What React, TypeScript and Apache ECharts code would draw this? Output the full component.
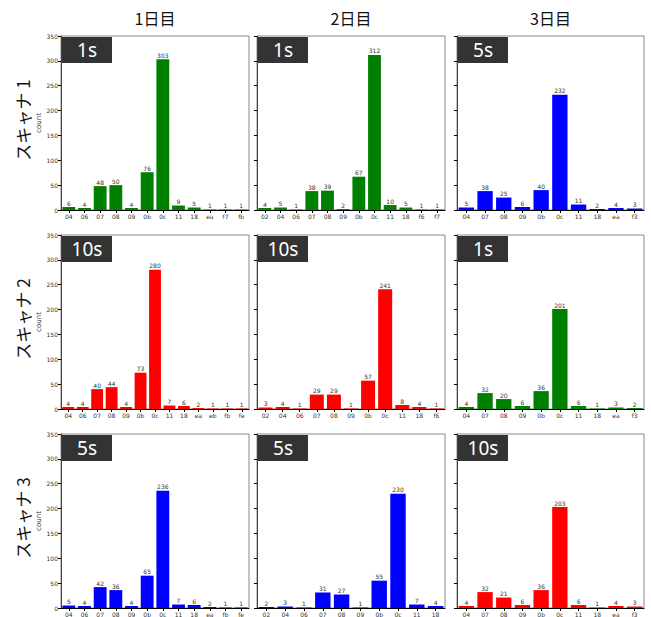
import React, { useEffect, useRef } from "react";
import * as echarts from "echarts";

const dayTitles = ["1日目", "2日目", "3日目"];
const scannerLabels = ["スキャナ 1", "スキャナ 2", "スキャナ 3"];

// Row 1 (スキャナ 1)
const r1d1Cats = ["04", "06", "07", "08", "09", "0b", "0c", "11", "18", "ea", "f7", "fb"];
const r1d1Vals = [6, 4, 48, 50, 4, 76, 303, 9, 5, 1, 1, 1];
const r1d2Cats = ["02", "04", "06", "07", "08", "09", "0b", "0c", "11", "18", "f6", "f7"];
const r1d2Vals = [4, 5, 1, 38, 39, 2, 67, 312, 10, 5, 1, 1];
const r1d3Cats = ["04", "07", "08", "09", "0b", "0c", "11", "18", "ea", "f3"];
const r1d3Vals = [5, 38, 25, 6, 40, 232, 11, 2, 4, 3];

// Row 2 (スキャナ 2)
const r2d1Cats = ["04", "06", "07", "08", "09", "0b", "0c", "11", "18", "ea", "eb", "fb", "fe"];
const r2d1Vals = [4, 4, 40, 44, 4, 73, 280, 7, 6, 2, 1, 1, 1];
const r2d2Cats = ["02", "04", "06", "07", "08", "09", "0b", "0c", "11", "18", "f6"];
const r2d2Vals = [3, 4, 1, 29, 29, 1, 57, 241, 8, 4, 1];
const r2d3Cats = ["04", "07", "08", "09", "0b", "0c", "11", "18", "ea", "f3"];
const r2d3Vals = [4, 32, 20, 6, 36, 201, 6, 1, 3, 2];

// Row 3 (スキャナ 3)
const r3d1Cats = ["04", "06", "07", "08", "09", "0b", "0c", "11", "18", "ea", "fb", "fe"];
const r3d1Vals = [5, 4, 42, 36, 4, 65, 236, 7, 6, 2, 1, 1];
const r3d2Cats = ["02", "04", "06", "07", "08", "09", "0b", "0c", "11", "18"];
const r3d2Vals = [2, 3, 1, 31, 27, 1, 55, 230, 7, 4];
const r3d3Cats = ["04", "07", "08", "09", "0b", "0c", "11", "18", "ea", "f3"];
const r3d3Vals = [4, 32, 21, 6, 36, 203, 6, 1, 4, 3];

const intervals = [
  ["1s", "1s", "5s"],
  ["10s", "10s", "1s"],
  ["5s", "5s", "10s"],
];

const panels = [
  [
    [r1d1Cats, r1d1Vals],
    [r1d2Cats, r1d2Vals],
    [r1d3Cats, r1d3Vals],
  ],
  [
    [r2d1Cats, r2d1Vals],
    [r2d2Cats, r2d2Vals],
    [r2d3Cats, r2d3Vals],
  ],
  [
    [r3d1Cats, r3d1Vals],
    [r3d2Cats, r3d2Vals],
    [r3d3Cats, r3d3Vals],
  ],
];

const intervalColor: Record<string, string> = {
  "1s": "#008000",
  "5s": "#0000ff",
  "10s": "#ff0000",
};

const colLeft = [61, 257, 457];
const colWidth = [188, 188, 187];
const rowTop = [36, 235, 434];
const rowHeight = 174;

export default function App() {
  const ref = useRef<HTMLDivElement>(null);

  useEffect(() => {
    if (!ref.current) return;
    const chart = echarts.init(ref.current, undefined, { renderer: "svg" });

    const grids: any[] = [];
    const xAxes: any[] = [];
    const yAxes: any[] = [];
    const series: any[] = [];
    const graphics: any[] = [];
    const fontFamily = "DejaVu Sans, sans-serif";

    panels.forEach((row, r) => {
      row.forEach((p, c) => {
        const idx = r * 3 + c;
        const cats = p[0] as string[];
        const vals = p[1] as number[];
        const iv = intervals[r][c];
        grids.push({
          left: colLeft[c],
          top: rowTop[r],
          width: colWidth[c],
          height: rowHeight,
          show: true,
          borderColor: "#888",
          borderWidth: 1,
          backgroundColor: "transparent",
        });
        xAxes.push({
          type: "category",
          gridIndex: idx,
          data: cats,
          boundaryGap: true,
          axisLine: { show: true, lineStyle: { color: "#000", width: 1.2 } },
          axisTick: { show: true, alignWithLabel: true, length: 3, lineStyle: { color: "#000" } },
          axisLabel: { show: true, fontSize: 6, color: "#333", margin: 3, interval: 0, fontFamily },
          splitLine: { show: false },
        });
        yAxes.push({
          type: "value",
          gridIndex: idx,
          min: 0,
          max: 350,
          interval: 50,
          name: c === 0 ? "count" : "",
          nameLocation: "middle",
          nameGap: 18,
          nameRotate: 90,
          nameTextStyle: { fontSize: 7, color: "#333", fontFamily },
          axisLine: { show: true, lineStyle: { color: "#444", width: 1 } },
          axisTick: { show: true, length: 3, lineStyle: { color: "#000" } },
          axisLabel: { show: c === 0, fontSize: 6, color: "#333", margin: 3, fontFamily },
          splitLine: { show: false },
        });
        series.push({
          type: "bar",
          xAxisIndex: idx,
          yAxisIndex: idx,
          data: vals,
          barCategoryGap: "18%",
          itemStyle: { color: intervalColor[iv] },
          label: {
            show: true,
            position: "top",
            distance: 1,
            fontSize: 6,
            color: "#333",
            fontFamily,
          },
        });
        graphics.push({
          type: "group",
          x: colLeft[c] + 1,
          y: rowTop[r] + 1,
          children: [
            {
              type: "rect",
              shape: { x: 0, y: 0, width: 50, height: 26 },
              style: { fill: "#333333" },
            },
            {
              type: "text",
              x: 25,
              y: 13,
              style: {
                text: iv,
                fill: "#ffffff",
                fontSize: 19,
                fontFamily: "Noto Sans, sans-serif",
                align: "center",
                verticalAlign: "middle",
              },
            },
          ],
        });
      });
    });

    dayTitles.forEach((t, c) => {
      graphics.push({
        type: "text",
        x: colLeft[c] + colWidth[c] / 2,
        y: 18,
        style: {
          text: t,
          fill: "#111",
          fontSize: 16,
          fontFamily: "Noto Sans CJK JP, sans-serif",
          align: "center",
          verticalAlign: "middle",
        },
      });
    });

    scannerLabels.forEach((t, r) => {
      graphics.push({
        type: "text",
        x: 22,
        y: rowTop[r] + 84,
        rotation: Math.PI / 2,
        style: {
          text: t,
          fill: "#111",
          fontSize: 17,
          fontFamily: "Noto Sans CJK JP, sans-serif",
          align: "center",
          verticalAlign: "middle",
        },
      });
    });

    chart.setOption({
      animation: false,
      backgroundColor: "#ffffff",
      grid: grids,
      xAxis: xAxes,
      yAxis: yAxes,
      series,
      graphic: graphics,
    });

    return () => chart.dispose();
  }, []);

  return (
    <div
      ref={ref}
      style={{ position: "fixed", left: 0, top: 0, width: 651, height: 617 }}
    />
  );
}
